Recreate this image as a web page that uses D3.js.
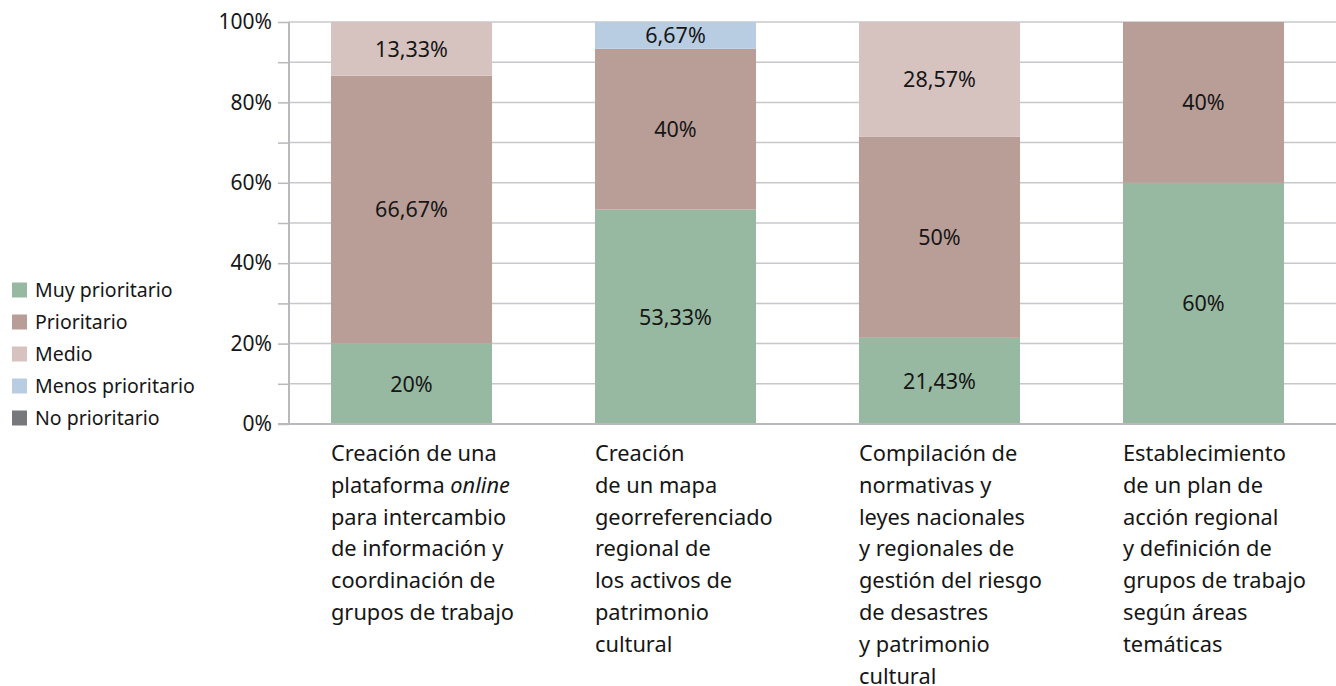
<!DOCTYPE html>
<html>
<head>
<meta charset="utf-8">
<script src="https://cdn.jsdelivr.net/npm/d3@7"></script>
<style>
  body { margin: 0; background: #fff; }
  text { font-family: "Noto Sans", sans-serif; fill: #161616; }
</style>
</head>
<body>
<svg id="js-svg" width="1336" height="686"></svg>
<script>
const categories = ["c1", "c2", "c3", "c4"];
// category labels, one array of lines per bar; *text* marks italic
const categoryLines = [
  ["Creación de una", "plataforma *online*", "para intercambio", "de información y", "coordinación de", "grupos de trabajo"],
  ["Creación", "de un mapa", "georreferenciado", "regional de", "los activos de", "patrimonio", "cultural"],
  ["Compilación de", "normativas y", "leyes nacionales", "y regionales de", "gestión del riesgo", "de desastres", "y patrimonio", "cultural"],
  ["Establecimiento", "de un plan de", "acción regional", "y definición de", "grupos de trabajo", "según áreas", "temáticas"]
];
const seriesNames = ["Muy prioritario", "Prioritario", "Medio", "Menos prioritario", "No prioritario"];
const seriesColors = ["#97b9a1", "#b99e98", "#d6c3c0", "#b9cde2", "#77787c"];
const muyPrioritario = [20, 53.33, 21.43, 60];
const prioritario = [66.67, 40, 50, 40];
const medio = [13.33, 0, 28.57, 0];
const menosPrioritario = [0, 6.67, 0, 0];
const noPrioritario = [0, 0, 0, 0];
const yTicks = [0, 20, 40, 60, 80, 100];

const seriesValues = [muyPrioritario, prioritario, medio, menosPrioritario, noPrioritario];
const rows = categories.map((c, i) => {
  const r = { cat: c };
  seriesNames.forEach((s, j) => (r[s] = seriesValues[j][i]));
  return r;
});

const svg = d3.select("#js-svg");
const axisX = 289;
const yscale = d3.scaleLinear().domain([0, 100]).range([424, 22]);
const xscale = d3.scaleBand().domain(categories).range([279.5, 1335.5]).paddingInner(0.39).paddingOuter(0.195);

// grid lines every 10%
svg.append("g")
  .selectAll("line")
  .data(d3.range(10, 101, 10))
  .join("line")
  .attr("x1", axisX)
  .attr("x2", 1336)
  .attr("y1", (d) => yscale(d))
  .attr("y2", (d) => yscale(d))
  .attr("stroke", "#c8c8cc")
  .attr("stroke-width", 1.5);

// bars
const stacked = d3.stack().keys(seriesNames)(rows);
const color = d3.scaleOrdinal().domain(seriesNames).range(seriesColors);

svg.append("g")
  .selectAll("g")
  .data(stacked)
  .join("g")
  .attr("fill", (d) => color(d.key))
  .selectAll("rect")
  .data((d) => d.filter((p) => p[1] - p[0] > 0))
  .join("rect")
  .attr("x", (d) => xscale(d.data.cat))
  .attr("width", xscale.bandwidth())
  .attr("y", (d) => yscale(d[1]))
  .attr("height", (d) => yscale(d[0]) - yscale(d[1]));

// value labels
const fmt = (v) => (Math.round(v * 100) / 100).toString().replace(".", ",") + "%";
svg.append("g")
  .selectAll("g")
  .data(stacked)
  .join("g")
  .selectAll("text")
  .data((d) => d.filter((p) => p[1] - p[0] > 0))
  .join("text")
  .attr("x", (d) => xscale(d.data.cat) + xscale.bandwidth() / 2)
  .attr("y", (d) => yscale((d[0] + d[1]) / 2))
  .attr("dy", "0.36em")
  .attr("text-anchor", "middle")
  .attr("font-size", 21.5)
  .text((d) => fmt(d[1] - d[0]));

// y axis
const yAxis = svg.append("g")
  .attr("transform", `translate(${axisX},0)`)
  .call(d3.axisLeft(yscale).tickValues(d3.range(0, 101, 10)).tickSize(11).tickPadding(6)
    .tickFormat((d) => (yTicks.includes(d) ? d + "%" : "")));
yAxis.select(".domain").attr("stroke", "#b8b8bd").attr("stroke-width", 2).attr("d", "M0,22V424");
yAxis.selectAll(".tick line").attr("stroke", "#b8b8bd").attr("stroke-width", 1.5);
yAxis.selectAll(".tick text").attr("font-size", 21).attr("fill", "#161616")
  .style("font-family", "'Noto Sans', sans-serif");

// x axis baseline
svg.append("line")
  .attr("x1", axisX - 11)
  .attr("x2", 1336)
  .attr("y1", yscale(0))
  .attr("y2", yscale(0))
  .attr("stroke", "#b8b8bd")
  .attr("stroke-width", 2);

// category labels
const catG = svg.append("g")
  .selectAll("text")
  .data(categories)
  .join("text")
  .attr("x", (d) => xscale(d))
  .attr("y", 461)
  .attr("font-size", 21.8);
catG.each(function (d, i) {
  const t = d3.select(this);
  categoryLines[i].forEach((line, k) => {
    const parts = line.split("*");
    parts.forEach((p, pi) => {
      if (!p) return;
      const ts = t.append("tspan").text(p);
      if (pi === 0) ts.attr("x", xscale(d)).attr("dy", k === 0 ? 0 : 31.8);
      if (pi % 2 === 1) ts.attr("font-style", "italic");
    });
  });
});

// legend
const legend = svg.append("g")
  .selectAll("g")
  .data(seriesNames)
  .join("g")
  .attr("transform", (d, i) => `translate(12,${290 + i * 32})`);
legend.append("rect")
  .attr("y", -7.5)
  .attr("width", 15)
  .attr("height", 15)
  .attr("fill", (d) => color(d));
legend.append("text")
  .attr("x", 23)
  .attr("dy", "0.36em")
  .attr("font-size", 19.5)
  .text((d) => d);
</script>
</body>
</html>
